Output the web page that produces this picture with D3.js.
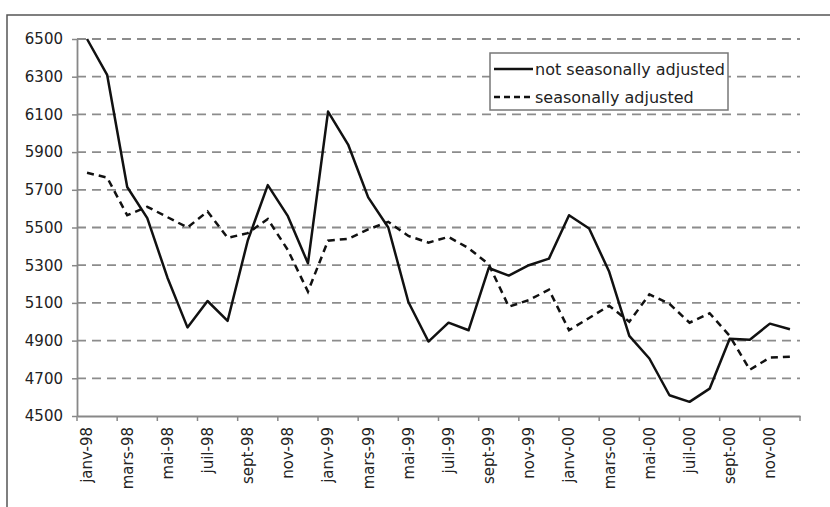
<!DOCTYPE html>
<html><head><meta charset="utf-8">
<script src="https://cdn.jsdelivr.net/npm/d3@7"></script>
<style>
body{margin:0;background:#fff;}
svg{display:block;}
text{font-family:"DejaVu Sans",sans-serif;fill:#222;}
</style></head>
<body><svg id="c" width="830" height="507"></svg>
<script>
const monthNames = ["janv","févr","mars","avr","mai","juin","juil","août","sept","oct","nov","déc"];
const years = ["98","99","00"];
const months = years.flatMap(y => monthNames.map(m => m + "-" + y));
const notSA = [6500, 6310, 5715, 5550, 5235, 4970, 5110, 5005, 5430, 5725, 5560, 5310,
               6115, 5940, 5660, 5500, 5105, 4895, 4995, 4955, 5285, 5245, 5300, 5335,
               5565, 5495, 5265, 4925, 4805, 4610, 4575, 4645, 4910, 4905, 4990, 4960];
const SA = [5790, 5765, 5565, 5610, 5555, 5500, 5585, 5445, 5470, 5545, 5380, 5160,
            5430, 5440, 5490, 5530, 5455, 5420, 5450, 5390, 5305, 5080, 5115, 5170,
            4955, 5020, 5085, 5000, 5145, 5095, 4995, 5045, 4925, 4745, 4810, 4815];
const yTicks = [4500, 4700, 4900, 5100, 5300, 5500, 5700, 5900, 6100, 6300, 6500];
const seriesNames = ["not seasonally adjusted", "seasonally adjusted"];

const svg = d3.select("#c");
const L = 77, R = 800, T = 39, B = 416;

svg.append("rect").attr("x",7).attr("y",15).attr("width",840).attr("height",520)
  .attr("fill","none").attr("stroke","#555").attr("stroke-width",1.5);

const x = d3.scaleBand().domain(months).range([L, R]).padding(0);
const y = d3.scaleLinear().domain([4500, 6500]).range([B, T]);

// grid
svg.append("g").selectAll("line").data(yTicks.filter(v => v > 4500)).join("line")
  .attr("x1", L).attr("x2", R).attr("y1", d => y(d)).attr("y2", d => y(d))
  .attr("stroke","#8c8c8c").attr("stroke-width",1.8).attr("stroke-dasharray","9,6");

// y axis
const ya = svg.append("g").attr("transform",`translate(${L},0)`)
  .call(d3.axisLeft(y).tickValues(yTicks).tickFormat(d3.format("d")).tickSize(5).tickSizeOuter(0).tickPadding(9));
ya.select(".domain").attr("stroke","#888").attr("stroke-width",1.8);
ya.selectAll(".tick line").attr("stroke","#888").attr("stroke-width",1.5);
ya.selectAll("text").style("font-size","15px").attr("fill","#222");

// x axis labels
const labeled = months.filter((m,i) => i % 2 === 0);
const xa = svg.append("g").attr("transform",`translate(0,${B})`)
  .call(d3.axisBottom(x).tickValues(labeled).tickSize(0).tickSizeOuter(0));
xa.select(".domain").attr("stroke","#888").attr("stroke-width",1.8);
xa.selectAll("text").style("font-size","15px").attr("fill","#222")
  .attr("transform","rotate(-90)").attr("text-anchor","end")
  .attr("x",-11).attr("y",0).attr("dy","0.36em");
// x tick marks at boundaries
const bounds = labeled.map(m => x(m)).concat([R]);
svg.append("g").selectAll("line").data(bounds).join("line")
  .attr("x1", d => d).attr("x2", d => d).attr("y1", B).attr("y2", B + 5)
  .attr("stroke","#888").attr("stroke-width",1.5);

const cx = m => x(m) + x.bandwidth()/2;
const line = d3.line().x((d,i) => cx(months[i])).y(d => y(d));

svg.append("path").datum(SA).attr("d", line).attr("fill","none")
  .attr("stroke","#111").attr("stroke-width",2.5).attr("stroke-dasharray","7,5");
svg.append("path").datum(notSA).attr("d", line).attr("fill","none")
  .attr("stroke","#111").attr("stroke-width",2.5).attr("stroke-linejoin","round");

// legend
const lg = svg.append("g");
lg.append("rect").attr("x",490).attr("y",53).attr("width",238).attr("height",57)
  .attr("fill","#fff").attr("stroke","#777").attr("stroke-width",1.5);
const items = [{name: seriesNames[0], dash: null, yy: 69}, {name: seriesNames[1], dash: "6,4", yy: 97}];
items.forEach(it => {
  lg.append("line").attr("x1",494).attr("x2",533).attr("y1",it.yy).attr("y2",it.yy)
    .attr("stroke","#111").attr("stroke-width",2.5).attr("stroke-dasharray", it.dash);
  lg.append("text").attr("x",535).attr("y",it.yy).attr("dy","0.36em")
    .style("font-size","16px").text(it.name);
});
</script></body></html>
